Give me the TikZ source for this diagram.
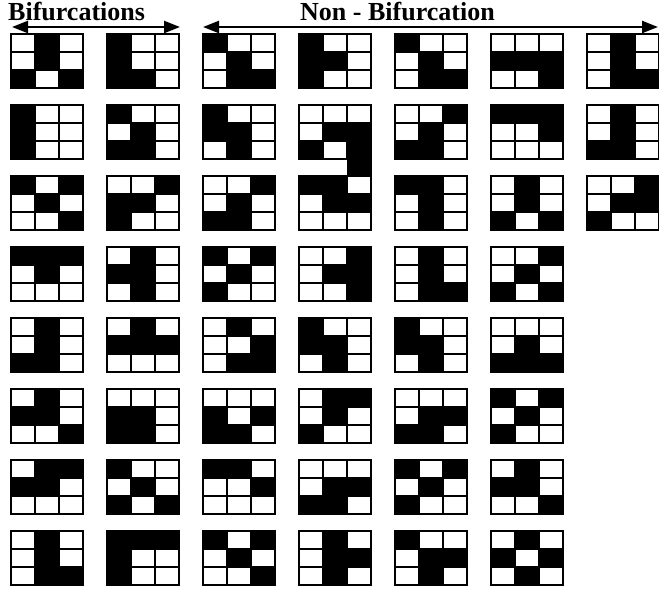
\documentclass[tikz,border=0pt]{standalone}
\usepackage{fontspec}
\setmainfont{Liberation Serif}
\usetikzlibrary{arrows.meta}
\tikzset{
  gridline/.style={draw=black,line width=2.2pt},
  headtext/.style={font=\fontsize{26}{26}\selectfont\bfseries,inner sep=0pt},
  dblarrow/.style={line width=2.4pt,{Triangle[length=16pt,width=12pt]}-{Triangle[length=16pt,width=12pt]}}
}
\newcommand\bitgrid[3]{%
  \begin{scope}[shift={({11+96*#1},{-(34+71*#2)})}]
    \foreach \v [count=\k from 0] in {#3} {%
      \pgfmathtruncatemacro\rr{floor(\k/3)}%
      \pgfmathtruncatemacro\cc{mod(\k,3)}%
      \ifnum\v=1 \fill[black] ({\cc*24},{-\rr*18}) rectangle ++(24,-18);\fi
    }
    \draw[gridline] (0,0) rectangle (72,-54) (24,0)--(24,-54) (48,0)--(48,-54) (0,-18)--(72,-18) (0,-36)--(72,-36);
  \end{scope}}
\begin{document}
\begin{tikzpicture}[x=1pt,y=1pt]
\useasboundingbox (0,0) rectangle (659,-589);
% headers
\node[headtext,anchor=base west] (bif) at (8,-20.7) {Bifurcations};
\node[headtext,anchor=base west] (nonbif) at (300,-20.7) {Non - Bifurcation};
\coordinate (bifL) at (12,-27);
\coordinate (bifR) at (180,-27);
\coordinate (nbL) at (203,-27);
\coordinate (nbR) at (658,-27);
\draw[dblarrow] (bifL) -- (bifR);
\draw[dblarrow] (nbL) -- (nbR);
% row 0
\bitgrid{0}{0}{0,1,0,0,1,0,1,0,1}
\bitgrid{1}{0}{1,0,0,1,0,0,1,1,0}
\bitgrid{2}{0}{1,0,0,0,1,0,0,1,1}
\bitgrid{3}{0}{1,0,0,1,1,0,1,0,0}
\bitgrid{4}{0}{1,0,0,0,1,0,0,1,1}
\bitgrid{5}{0}{0,0,0,1,1,1,0,0,1}
\bitgrid{6}{0}{0,1,0,0,1,0,0,1,1}
% row 1
\bitgrid{0}{1}{1,0,0,1,0,0,1,0,0}
\bitgrid{1}{1}{1,0,0,0,1,0,1,1,0}
\bitgrid{2}{1}{1,0,0,1,1,0,0,1,0}
\bitgrid{3}{1}{0,0,0,0,1,1,1,0,1}
\bitgrid{4}{1}{0,0,1,0,1,0,1,1,0}
\bitgrid{5}{1}{1,1,1,0,0,1,0,0,0}
\bitgrid{6}{1}{0,1,0,0,1,0,1,1,0}
% connecting strip
\fill[black] (347,-158) rectangle (372,-177);
% row 2
\bitgrid{0}{2}{1,0,1,0,1,0,0,0,1}
\bitgrid{1}{2}{0,0,1,1,1,0,1,0,0}
\bitgrid{2}{2}{0,0,1,0,1,0,1,1,0}
\bitgrid{3}{2}{1,1,0,0,1,1,0,0,0}
\bitgrid{4}{2}{1,1,0,0,1,0,0,1,0}
\bitgrid{5}{2}{0,1,0,0,1,0,1,0,1}
\bitgrid{6}{2}{0,0,1,0,1,1,1,0,0}
% row 3
\bitgrid{0}{3}{1,1,1,0,1,0,0,0,0}
\bitgrid{1}{3}{0,1,0,1,1,0,0,1,0}
\bitgrid{2}{3}{1,0,1,0,1,0,1,0,0}
\bitgrid{3}{3}{0,0,1,0,1,1,0,0,1}
\bitgrid{4}{3}{0,1,0,0,1,0,0,1,1}
\bitgrid{5}{3}{0,0,1,0,1,0,1,0,1}
% row 4
\bitgrid{0}{4}{0,1,0,0,1,0,1,1,0}
\bitgrid{1}{4}{0,1,0,1,1,1,0,0,0}
\bitgrid{2}{4}{0,1,0,0,0,1,0,1,1}
\bitgrid{3}{4}{1,0,0,1,1,0,0,1,0}
\bitgrid{4}{4}{1,0,0,1,1,0,0,1,0}
\bitgrid{5}{4}{0,0,0,0,1,0,1,1,1}
% row 5
\bitgrid{0}{5}{0,1,0,1,1,0,0,0,1}
\bitgrid{1}{5}{0,0,0,1,1,0,1,1,0}
\bitgrid{2}{5}{0,0,0,1,0,1,1,1,0}
\bitgrid{3}{5}{0,1,1,0,1,0,1,0,0}
\bitgrid{4}{5}{0,0,0,0,1,1,1,1,0}
\bitgrid{5}{5}{1,0,1,0,1,0,1,0,0}
% row 6
\bitgrid{0}{6}{0,1,1,1,1,0,0,0,0}
\bitgrid{1}{6}{1,0,0,0,1,0,1,0,1}
\bitgrid{2}{6}{1,1,0,0,0,1,0,0,0}
\bitgrid{3}{6}{0,0,0,0,1,1,1,1,0}
\bitgrid{4}{6}{1,0,1,0,1,0,1,0,0}
\bitgrid{5}{6}{0,1,0,1,1,0,0,0,1}
% row 7
\bitgrid{0}{7}{0,1,0,0,1,0,0,1,1}
\bitgrid{1}{7}{1,1,1,1,0,0,1,0,0}
\bitgrid{2}{7}{1,0,1,0,1,0,0,0,1}
\bitgrid{3}{7}{0,1,0,0,1,1,0,1,0}
\bitgrid{4}{7}{1,0,0,0,1,1,0,1,0}
\bitgrid{5}{7}{0,1,0,1,0,1,0,1,0}
\end{tikzpicture}
\end{document}
